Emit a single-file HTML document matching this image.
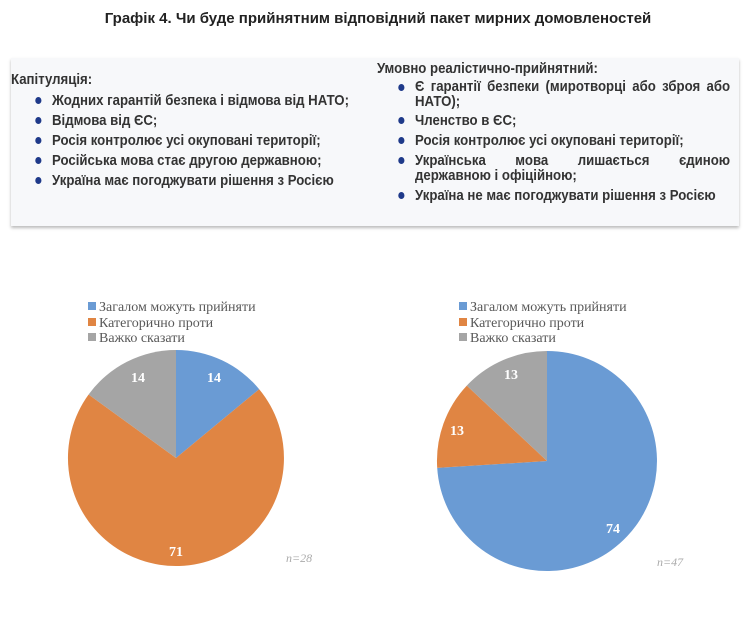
<!DOCTYPE html>
<html><head><meta charset="utf-8"><style>
body{margin:0;width:748px;height:642px;background:#fff;position:relative;font-family:"Liberation Sans",sans-serif;overflow:hidden}
.t{position:absolute;left:0;width:756px;top:10px;text-align:center;font-weight:bold;font-size:15px;color:#222}
.box{position:absolute;left:11px;top:58px;width:728px;height:168px;background:#f7f8fa;box-shadow:0 2px 3px #bbb}
.c{position:absolute;font-weight:bold;font-size:15px;color:#333;line-height:17px;transform:scaleX(0.88);transform-origin:0 0;white-space:nowrap}
.c ul{margin:0;padding:0;list-style:none}
.c li{position:relative;margin-bottom:3px}
.c li:before{content:"";position:absolute;left:-19px;top:5px;width:7px;height:7px;border-radius:50%;background:#1f3a8a}
.nb:before{display:none}
</style></head><body>
<div class="t">Графік 4. Чи буде прийнятним відповідний пакет мирних домовленостей</div>
<div class="box"></div>
<div class="c" style="left:11px;top:71px">Капітуляція:</div>
<div class="c" style="left:52px;top:92px"><ul>
<li>Жодних гарантій безпека і відмова від НАТО;</li>
<li>Відмова від ЄС;</li>
<li>Росія контролює усі окуповані території;</li>
<li>Російська мова стає другою державною;</li>
<li>Україна має погоджувати рішення з Росією</li></ul></div>
<div class="c" style="left:377px;top:60px">Умовно реалістично-прийнятний:</div>
<div class="c" style="left:415px;top:79px;width:358px;white-space:normal;text-align:justify"><ul>
<li style="line-height:15px">Є гарантії безпеки (миротворці або зброя або НАТО);</li>
<li>Членство в ЄС;</li>
<li>Росія контролює усі окуповані території;</li>
<li style="text-align-last:justify;margin-bottom:0">Українська мова лишається єдиною</li>
<li class="nb" style="margin-top:-2px">державною і офіційною;</li>
<li>Україна не має погоджувати рішення з Росією</li></ul></div>
<svg width="748" height="642" style="position:absolute;left:0;top:0" font-family="Liberation Serif,serif">
<path d="M176,458 L176,350 A108,108 0 0 1 259.2,389.2 Z" fill="#6a9bd4"/>
<path d="M176,458 L259.2,389.2 A108,108 0 1 1 88.6,394.5 Z" fill="#e08543"/>
<path d="M176,458 L88.6,394.5 A108,108 0 0 1 176,350 Z" fill="#a5a5a5"/>
<path d="M547,461 L547,351 A110,110 0 1 1 437.2,467.9 Z" fill="#6a9bd4"/>
<path d="M547,461 L437.2,467.9 A110,110 0 0 1 466.8,385.6 Z" fill="#e08543"/>
<path d="M547,461 L466.8,385.6 A110,110 0 0 1 547,351 Z" fill="#a5a5a5"/>
<g fill="#fff" font-weight="bold" font-size="14" text-anchor="middle">
<text x="214" y="382">14</text><text x="138" y="382">14</text><text x="176" y="556">71</text>
<text x="511" y="379">13</text><text x="457" y="435">13</text><text x="613" y="533">74</text></g>
<g font-size="14" fill="#595959">
<rect x="88" y="302" width="8" height="8" fill="#6a9bd4"/><text x="99" y="311">Загалом можуть прийняти</text>
<rect x="88" y="318" width="8" height="8" fill="#e08543"/><text x="99" y="327">Категорично проти</text>
<rect x="88" y="333" width="8" height="8" fill="#a5a5a5"/><text x="99" y="342">Важко сказати</text>
<rect x="459" y="302" width="8" height="8" fill="#6a9bd4"/><text x="470" y="311">Загалом можуть прийняти</text>
<rect x="459" y="318" width="8" height="8" fill="#e08543"/><text x="470" y="327">Категорично проти</text>
<rect x="459" y="333" width="8" height="8" fill="#a5a5a5"/><text x="470" y="342">Важко сказати</text>
</g>
<g font-size="12" fill="#aaa" font-style="italic">
<text x="286" y="562">n=28</text><text x="657" y="566">n=47</text></g>
</svg>
</body></html>
